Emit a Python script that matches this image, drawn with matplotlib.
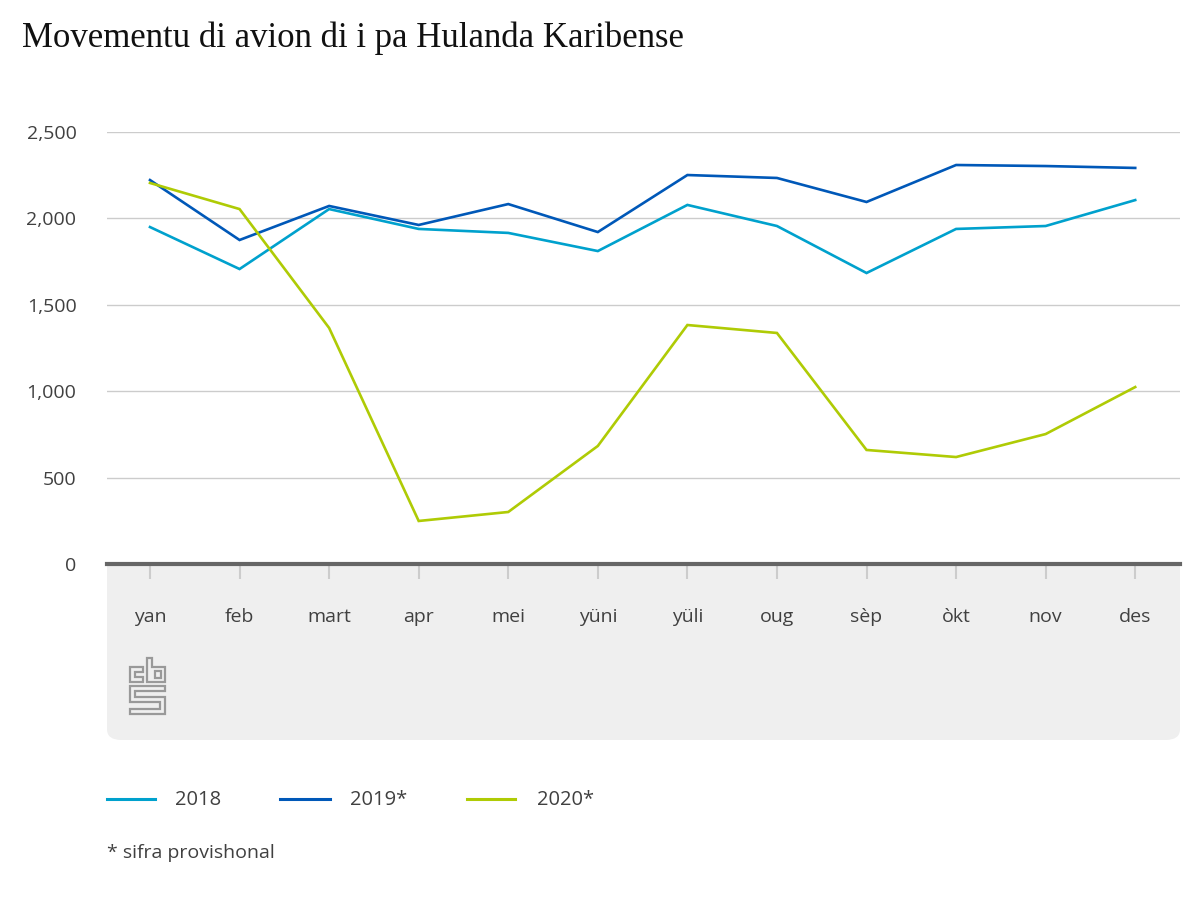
import matplotlib
matplotlib.use("Agg")
import matplotlib.pyplot as plt
from matplotlib.patches import FancyBboxPatch, Polygon
from matplotlib.lines import Line2D

# 数据
maanden = ['yan', 'feb', 'mart', 'apr', 'mei', 'yüni', 'yüli', 'oug', 'sèp', 'òkt', 'nov', 'des']
v2018 = [1950, 1707, 2054, 1939, 1916, 1811, 2078, 1956, 1684, 1939, 1956, 2106]
v2019 = [2222, 1875, 2072, 1962, 2083, 1921, 2251, 2234, 2095, 2309, 2303, 2292]
v2020 = [2205, 2054, 1366, 249, 301, 683, 1383, 1337, 660, 619, 752, 1024]
reeksen = ['2018', '2019*', '2020*']
kleuren = ['#00a1cd', '#0058b8', '#afcb05']
yticks = [0, 500, 1000, 1500, 2000, 2500]

W, H = 1200, 900
plt.rcParams['font.family'] = ['Open Sans', 'DejaVu Sans']
tekst_kleur = '#404040'

def fx(x):
    return x / W

def fy(y):
    return 1 - y / H

fig = plt.figure(figsize=(12, 9), dpi=100)
fig.patch.set_facecolor('white')

# 灰色底栏（圆角）
band = FancyBboxPatch((fx(107), fy(740)), fx(1180) - fx(107), fy(540) - fy(740),
                      boxstyle="round,pad=0,rounding_size=0.012",
                      transform=fig.transFigure, facecolor='#efefef',
                      edgecolor='none', zorder=-1)
fig.patches.append(band)

ax = fig.add_axes([fx(107), fy(564), fx(1180) - fx(107), fy(132) - fy(564)])
ax.set_facecolor('white')

x = list(range(len(maanden)))
for vals, lab, c in zip([v2018, v2019, v2020], reeksen, kleuren):
    ax.plot(x, vals, color=c, lw=1.9, label=lab, zorder=3, solid_joinstyle='miter')

ax.set_xlim(-0.48, 11.5)
ax.set_ylim(0, 2500)
ax.set_yticks(yticks)
ax.set_yticklabels([f'{v:,}' for v in yticks])
ax.set_xticks(x)
ax.set_xticklabels(maanden)
ax.grid(axis='y', color='#cccccc', lw=1)
ax.set_axisbelow(True)

for s in ['top', 'right', 'left']:
    ax.spines[s].set_visible(False)
ax.spines['bottom'].set_color('#666666')
ax.spines['bottom'].set_linewidth(3)
ax.spines['bottom'].set_zorder(4)

ax.tick_params(axis='y', length=0, pad=22, labelsize=14, labelcolor=tekst_kleur)
ax.tick_params(axis='x', length=11, width=1.5, color='#cccccc', pad=21,
               labelsize=14, labelcolor=tekst_kleur)

# 标题
fig.text(fx(22), fy(47), 'Movementu di avion di i pa Hulanda Karibense',
         fontsize=25, family='Liberation Serif', color='#111111', va='baseline')

# CBS 标志
logo_kleur = '#999999'
vormen = [
    [(130, 667), (143, 667), (143, 672), (135, 672), (135, 677), (143, 677), (143, 682), (130, 682)],
    [(147, 658), (152, 658), (152, 667), (165, 667), (165, 682), (147, 682)],
    [(155, 671), (161, 671), (161, 678), (155, 678)],
    [(130, 686), (165, 686), (165, 691), (135, 691), (135, 697), (165, 697), (165, 714),
     (130, 714), (130, 709), (160, 709), (160, 702), (130, 702)],
]
for v in vormen:
    p = Polygon([(fx(a), fy(b)) for a, b in v], closed=True, transform=fig.transFigure,
                facecolor='none', edgecolor=logo_kleur, lw=1.6, joinstyle='miter')
    fig.patches.append(p)

# 图例
leg_x = [(107, 155, 175), (280, 330, 350), (467, 515, 537)]
for (x0, x1, tx), lab, c in zip(leg_x, reeksen, kleuren):
    fig.add_artist(Line2D([fx(x0), fx(x1)], [fy(799), fy(799)], color=c, lw=2.2,
                          transform=fig.transFigure))
    fig.text(fx(tx), fy(800), lab, fontsize=14.5, color=tekst_kleur, va='center')

fig.text(fx(107), fy(853), '* sifra provishonal', fontsize=14, color=tekst_kleur, va='center')

fig.savefig('out.png', dpi=100, facecolor='white')
